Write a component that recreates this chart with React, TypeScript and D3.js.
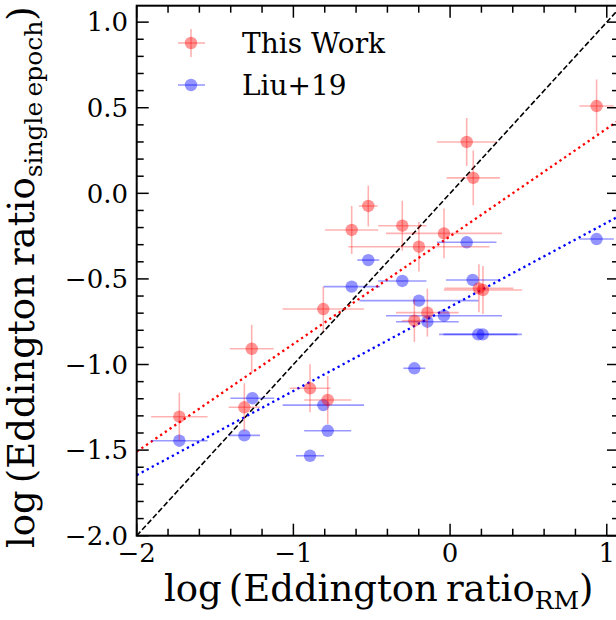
import React from "react";
import * as d3 from "d3";

// This Work (red): x, y, xerr, yerr
const redX = [0.935, 0.106, 0.148, -0.522, -0.628, -0.305, -0.039, -0.199, -0.809, 0.184, 0.21, -0.145, -0.228, -1.266, -1.728, -1.313, -0.894, -0.781];
const redY = [0.51, 0.30, 0.09, -0.074, -0.214, -0.189, -0.234, -0.312, -0.676, -0.555, -0.565, -0.697, -0.744, -0.908, -1.305, -1.25, -1.139, -1.207];
const redXErr = [0.11, 0.19, 0.17, 0.06, 0.17, 0.154, 0.37, 0.45, 0.26, 0.22, 0.25, 0.2, 0.08, 0.14, 0.18, 0.1, 0.13, 0.15];
const redYErr = [0.155, 0.14, 0.16, 0.12, 0.14, 0.146, 0.145, 0.145, 0.13, 0.14, 0.14, 0.14, 0.125, 0.14, 0.14, 0.14, 0.14, 0.14];

// Liu+19 (blue): x, y, xerr
const blueX = [0.935, 0.106, -0.522, -0.628, -0.305, 0.144, -0.199, -0.039, -0.145, 0.18, 0.208, -0.228, -1.728, -1.262, -1.313, -0.809, -0.781, -0.894];
const blueY = [-0.267, -0.286, -0.39, -0.545, -0.512, -0.506, -0.627, -0.715, -0.75, -0.824, -0.824, -1.022, -1.445, -1.197, -1.414, -1.237, -1.387, -1.533];
const blueXErr = [0.11, 0.19, 0.07, 0.18, 0.154, 0.17, 0.38, 0.37, 0.2, 0.25, 0.25, 0.07, 0.18, 0.14, 0.1, 0.26, 0.15, 0.09];

// linear fits: [slope, intercept]
const redFit = [0.629, -0.251];
const blueFit = [0.4916, -0.663];

const xMajorTicks = [-2, -1, 0, 1];
const xTickLabels = ["\u22122", "\u22121", "0", "1"];
const yMajorTicks = [-2, -1.5, -1, -0.5, 0, 0.5, 1];
const yTickLabels = ["\u22122.0", "\u22121.5", "\u22121.0", "\u22120.5", "0.0", "0.5", "1.0"];
const legendLabels = ["This Work", "Liu+19"];

const W = 616, H = 620;
const L = 136.7, R = 619, T = 5.7, B = 535.7;
const xScale = d3.scaleLinear().domain([-2, 1.078]).range([L, R]);
const yScale = d3.scaleLinear().domain([-2, 1.096]).range([B, T]);

const FONT = "'DejaVu Serif', serif";
const RED = "#ff0000";
const BLUE = "#0000ff";
const LAB = 37;
const SUB = 25;

export default function App() {
  const xd = xScale.domain();
  const fitLine = (f: number[]) =>
    d3.line<number>().x((d) => xScale(d)).y((d) => yScale(f[0] * d + f[1]))(xd) as string;
  const oneToOne = d3.line<number>().x((d) => xScale(d)).y((d) => yScale(d))([-2, 1.1]) as string;

  const xMinor = d3.range(-2, 1.08, 0.2).filter((v) => Math.abs(v - Math.round(v)) > 1e-6);
  const yMinor = d3.range(-2, 1.1, 0.1).filter((v) => Math.abs(v * 2 - Math.round(v * 2)) > 1e-6);
  const MJ = 12, MN = 7;

  return (
    <svg width={W} height={H} style={{ position: "absolute", left: 0, top: 0, background: "#fff" }} fontFamily={FONT}>
      <defs>
        <clipPath id="plot">
          <rect x={L} y={T} width={R - L} height={B - T} />
        </clipPath>
      </defs>
      <g clipPath="url(#plot)">
        <path d={oneToOne} fill="none" stroke="#000" strokeWidth={1.6} strokeDasharray="5.5 2.5" />
        <path d={fitLine(redFit)} fill="none" stroke={RED} strokeWidth={2.3} strokeDasharray="2.3 3.4" />
        <path d={fitLine(blueFit)} fill="none" stroke={BLUE} strokeWidth={2.3} strokeDasharray="2.3 3.4" />
        {blueX.map((x, i) => (
          <g key={"b" + i}>
            <line x1={xScale(x - blueXErr[i])} x2={xScale(x + blueXErr[i])} y1={yScale(blueY[i])} y2={yScale(blueY[i])}
              stroke={BLUE} strokeOpacity={0.4} strokeWidth={1.6} />
            <circle cx={xScale(x)} cy={yScale(blueY[i])} r={6.2} fill={BLUE} fillOpacity={0.42} />
          </g>
        ))}
        {redX.map((x, i) => (
          <g key={"r" + i}>
            <line x1={xScale(x - redXErr[i])} x2={xScale(x + redXErr[i])} y1={yScale(redY[i])} y2={yScale(redY[i])}
              stroke={RED} strokeOpacity={0.3} strokeWidth={1.6} />
            <line x1={xScale(x)} x2={xScale(x)} y1={yScale(redY[i] - redYErr[i])} y2={yScale(redY[i] + redYErr[i])}
              stroke={RED} strokeOpacity={0.3} strokeWidth={1.6} />
            <circle cx={xScale(x)} cy={yScale(redY[i])} r={6.2} fill={RED} fillOpacity={0.42} />
          </g>
        ))}
      </g>

      {/* ticks */}
      <g stroke="#000" strokeWidth={1.5}>
        {xMajorTicks.map((v) => (
          <g key={"xm" + v}>
            <line x1={xScale(v)} x2={xScale(v)} y1={B} y2={B - MJ} />
            <line x1={xScale(v)} x2={xScale(v)} y1={T} y2={T + MJ} />
          </g>
        ))}
        {xMinor.map((v) => (
          <g key={"xn" + v}>
            <line x1={xScale(v)} x2={xScale(v)} y1={B} y2={B - MN} />
            <line x1={xScale(v)} x2={xScale(v)} y1={T} y2={T + MN} />
          </g>
        ))}
        {yMajorTicks.map((v) => (
          <g key={"ym" + v}>
            <line x1={L} x2={L + MJ} y1={yScale(v)} y2={yScale(v)} />
            <line x1={R} x2={R - MJ} y1={yScale(v)} y2={yScale(v)} />
          </g>
        ))}
        {yMinor.map((v) => (
          <g key={"yn" + v}>
            <line x1={L} x2={L + MN} y1={yScale(v)} y2={yScale(v)} />
            <line x1={R} x2={R - MN} y1={yScale(v)} y2={yScale(v)} />
          </g>
        ))}
      </g>
      <rect x={L} y={T} width={R - L} height={B - T} fill="none" stroke="#000" strokeWidth={2} />

      {/* tick labels */}
      {xMajorTicks.map((v, i) => (
        <text key={"xl" + v} x={xScale(v)} y={562} textAnchor="middle" fontSize={26} fill="#000">{xTickLabels[i]}</text>
      ))}
      {yMajorTicks.map((v, i) => (
        <text key={"yl" + v} x={128} y={yScale(v) + 9.3} textAnchor="end" fontSize={26} fill="#000">{yTickLabels[i]}</text>
      ))}

      {/* axis labels */}
      <text x={164} y={601} fontSize={LAB} fill="#000">
        log<tspan dx={7}>(Eddington</tspan><tspan dx={8}>ratio</tspan>
        <tspan fontSize={SUB} dy={8}>RM</tspan><tspan dy={-8}>)</tspan>
      </text>
      <text transform="translate(34,548) rotate(-90)" x={0} y={0} fontSize={LAB} fill="#000">
        log<tspan dx={7}>(Eddington</tspan><tspan dx={8}>ratio</tspan>
        <tspan fontSize={SUB} dy={8}>single</tspan><tspan fontSize={SUB} dx={5}>epoch</tspan><tspan dy={-8}>)</tspan>
      </text>

      {/* legend */}
      <g>
        <line x1={178} x2={205} y1={43} y2={43} stroke={RED} strokeOpacity={0.3} strokeWidth={1.6} />
        <line x1={191} x2={191} y1={29} y2={57} stroke={RED} strokeOpacity={0.3} strokeWidth={1.6} />
        <circle cx={191} cy={43} r={6.2} fill={RED} fillOpacity={0.42} />
        <text x={242} y={53} fontSize={28} fill="#000">{legendLabels[0]}</text>
        <line x1={178} x2={205} y1={85} y2={85} stroke={BLUE} strokeOpacity={0.4} strokeWidth={1.6} />
        <circle cx={191} cy={85} r={6.2} fill={BLUE} fillOpacity={0.42} />
        <text x={242} y={95} fontSize={28} fill="#000">{legendLabels[1]}</text>
      </g>
    </svg>
  );
}
